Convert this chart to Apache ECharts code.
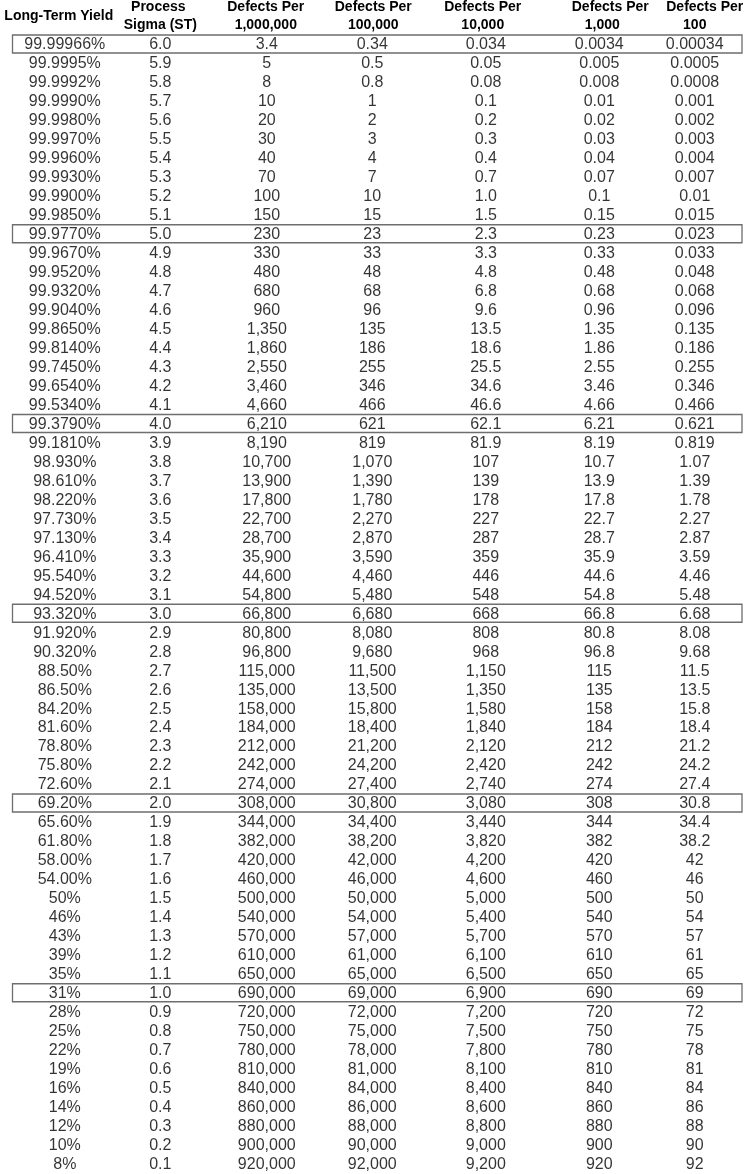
<!DOCTYPE html>
<html>
<head>
<meta charset="utf-8">
<script src="https://cdn.jsdelivr.net/npm/echarts@6/dist/echarts.min.js"></script>
<style>
html,body{margin:0;padding:0;background:#fff;}
#chart{width:750px;height:1174px;}
</style>
</head>
<body>
<div id="chart"></div>
<script>
const headers = ['Long-Term Yield', 'Process\nSigma (ST)', 'Defects Per\n1,000,000', 'Defects Per\n100,000', 'Defects Per\n10,000', 'Defects Per\n1,000', 'Defects Per\n100'];

const yields = ['99.99966%','99.9995%','99.9992%','99.9990%','99.9980%','99.9970%','99.9960%','99.9930%','99.9900%','99.9850%',
  '99.9770%','99.9670%','99.9520%','99.9320%','99.9040%','99.8650%','99.8140%','99.7450%','99.6540%','99.5340%',
  '99.3790%','99.1810%','98.930%','98.610%','98.220%','97.730%','97.130%','96.410%','95.540%','94.520%',
  '93.320%','91.920%','90.320%','88.50%','86.50%','84.20%','81.60%','78.80%','75.80%','72.60%',
  '69.20%','65.60%','61.80%','58.00%','54.00%','50%','46%','43%','39%','35%',
  '31%','28%','25%','22%','19%','16%','14%','12%','10%','8%'];

const sigma = ['6.0','5.9','5.8','5.7','5.6','5.5','5.4','5.3','5.2','5.1',
  '5.0','4.9','4.8','4.7','4.6','4.5','4.4','4.3','4.2','4.1',
  '4.0','3.9','3.8','3.7','3.6','3.5','3.4','3.3','3.2','3.1',
  '3.0','2.9','2.8','2.7','2.6','2.5','2.4','2.3','2.2','2.1',
  '2.0','1.9','1.8','1.7','1.6','1.5','1.4','1.3','1.2','1.1',
  '1.0','0.9','0.8','0.7','0.6','0.5','0.4','0.3','0.2','0.1'];

const perMillion = ['3.4','5','8','10','20','30','40','70','100','150',
  '230','330','480','680','960','1,350','1,860','2,550','3,460','4,660',
  '6,210','8,190','10,700','13,900','17,800','22,700','28,700','35,900','44,600','54,800',
  '66,800','80,800','96,800','115,000','135,000','158,000','184,000','212,000','242,000','274,000',
  '308,000','344,000','382,000','420,000','460,000','500,000','540,000','570,000','610,000','650,000',
  '690,000','720,000','750,000','780,000','810,000','840,000','860,000','880,000','900,000','920,000'];

const per100k = ['0.34','0.5','0.8','1','2','3','4','7','10','15',
  '23','33','48','68','96','135','186','255','346','466',
  '621','819','1,070','1,390','1,780','2,270','2,870','3,590','4,460','5,480',
  '6,680','8,080','9,680','11,500','13,500','15,800','18,400','21,200','24,200','27,400',
  '30,800','34,400','38,200','42,000','46,000','50,000','54,000','57,000','61,000','65,000',
  '69,000','72,000','75,000','78,000','81,000','84,000','86,000','88,000','90,000','92,000'];

const per10k = ['0.034','0.05','0.08','0.1','0.2','0.3','0.4','0.7','1.0','1.5',
  '2.3','3.3','4.8','6.8','9.6','13.5','18.6','25.5','34.6','46.6',
  '62.1','81.9','107','139','178','227','287','359','446','548',
  '668','808','968','1,150','1,350','1,580','1,840','2,120','2,420','2,740',
  '3,080','3,440','3,820','4,200','4,600','5,000','5,400','5,700','6,100','6,500',
  '6,900','7,200','7,500','7,800','8,100','8,400','8,600','8,800','9,000','9,200'];

const per1k = ['0.0034','0.005','0.008','0.01','0.02','0.03','0.04','0.07','0.1','0.15',
  '0.23','0.33','0.48','0.68','0.96','1.35','1.86','2.55','3.46','4.66',
  '6.21','8.19','10.7','13.9','17.8','22.7','28.7','35.9','44.6','54.8',
  '66.8','80.8','96.8','115','135','158','184','212','242','274',
  '308','344','382','420','460','500','540','570','610','650',
  '690','720','750','780','810','840','860','880','900','920'];

const per100 = ['0.00034','0.0005','0.0008','0.001','0.002','0.003','0.004','0.007','0.01','0.015',
  '0.023','0.033','0.048','0.068','0.096','0.135','0.186','0.255','0.346','0.466',
  '0.621','0.819','1.07','1.39','1.78','2.27','2.87','3.59','4.46','5.48',
  '6.68','8.08','9.68','11.5','13.5','15.8','18.4','21.2','24.2','27.4',
  '30.8','34.4','38.2','42','46','50','54','57','61','65',
  '69','72','75','78','81','84','86','88','90','92'];

const boxedRows = ['6.0','5.0','4.0','3.0','2.0','1.0'];

// ---- styling / layout (not data) ----
const columns = [yields, sigma, perMillion, per100k, per10k, per1k, per100];
const cellShift = [7, -4, -4, -5, 2, 9, -2];            // px nudges of each column's text
const headShift = [[1], [-6, -4], [-5, -5], [-4, -4], [-1, -1], [20, 12], [8, -2]];
const FONT = '"Liberation Sans", Arial, Helvetica, sans-serif';
const TEXT = '#000';

const chart = echarts.init(document.getElementById('chart'), null, {renderer: 'canvas'});

const rich = {};
function seg(name, text, shift, lh) {
  const pad = shift >= 0 ? [0, 0, 0, 2 * shift] : [0, -2 * shift, 0, 0];
  rich[name] = {fontFamily: FONT, fontSize: 14, fontWeight: 'bold', color: TEXT, lineHeight: lh, padding: pad};
  return '{' + name + '|' + text + '}';
}
const headerText = headers.map((h, i) => {
  const lines = h.split('\n');
  if (lines.length === 1) return seg('h' + i + '_0', lines[0], headShift[i][0], 36);
  return lines.map((l, j) => seg('h' + i + '_' + j, l, headShift[i][j], 18)).join('\n');
});

const cellSeries = columns.map((col, ci) => ({
  type: 'scatter',
  silent: true,
  symbolSize: 1,
  itemStyle: {color: 'rgba(0,0,0,0)'},
  data: col.map((txt, ri) => [ci, sigma[ri], txt]),
  label: {
    show: true,
    position: 'inside',
    offset: [cellShift[ci], 0],
    formatter: p => p.value[2],
    fontFamily: FONT,
    fontSize: 16,
    color: TEXT
  },
  z: 3
}));

const boxSeries = {
  type: 'custom',
  silent: true,
  data: boxedRows.map(r => [0, r]),
  renderItem: (params, api) => {
    const cy = api.coord([0, api.value(1)])[1];
    const bh = api.size([0, 1])[1];
    return {
      type: 'rect',
      shape: {x: 12.5, y: cy - bh / 2 - 0.5, width: 729.5, height: bh - 1},
      style: {fill: 'none', stroke: '#6e6e6e', lineWidth: 1.3}
    };
  },
  z: 2
};

chart.setOption({
  animation: false,
  backgroundColor: '#fff',
  grid: {left: 1.7, right: -6.3, top: 34.5, height: 1140, containLabel: false},
  xAxis: {
    type: 'category',
    position: 'top',
    data: headers,
    axisLine: {show: false},
    axisTick: {show: false},
    splitLine: {show: false},
    axisLabel: {
      interval: 0,
      margin: 1.5,
      formatter: (v, i) => headerText[i],
      rich: rich
    }
  },
  yAxis: {
    type: 'category',
    inverse: true,
    data: sigma,
    show: false
  },
  series: [boxSeries].concat(cellSeries)
});
</script>
</body>
</html>
